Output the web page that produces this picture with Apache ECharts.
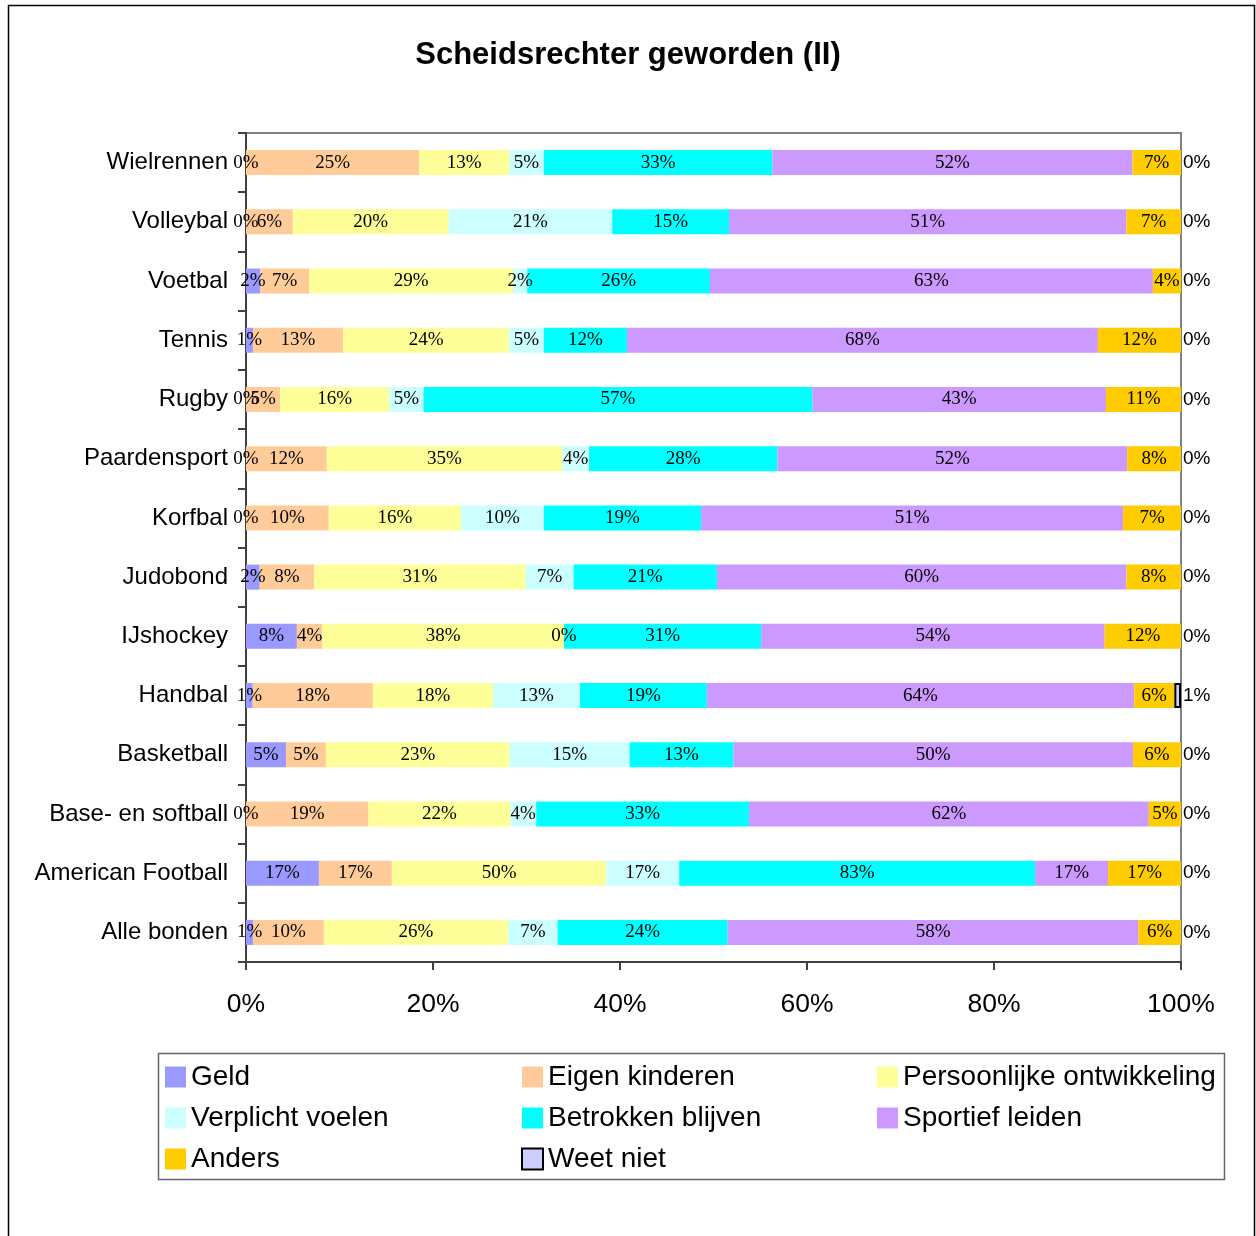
<!DOCTYPE html>
<html>
<head>
<meta charset="utf-8">
<title>Scheidsrechter geworden (II)</title>
<script src="https://cdn.jsdelivr.net/npm/echarts@6/dist/echarts.min.js"></script>
<style>
  html, body { margin: 0; padding: 0; background: #fff; }
  #chart { width: 1256px; height: 1236px; }
</style>
</head>
<body>
<div id="chart"></div>
<script>
const categories = ['Wielrennen', 'Volleybal', 'Voetbal', 'Tennis', 'Rugby', 'Paardensport', 'Korfbal',
  'Judobond', 'IJshockey', 'Handbal', 'Basketball', 'Base- en softball', 'American Football', 'Alle bonden']

const geld = [0, 0, 2, 1, 0, 0, 0, 2, 8, 1, 5, 0, 17, 1]
const eigenKinderen = [25, 6, 7, 13, 5, 12, 10, 8, 4, 18, 5, 19, 17, 10]
const persoonlijk = [13, 20, 29, 24, 16, 35, 16, 31, 38, 18, 23, 22, 50, 26]
const verplicht = [5, 21, 2, 5, 5, 4, 10, 7, 0, 13, 15, 4, 17, 7]
const betrokken = [33, 15, 26, 12, 57, 28, 19, 21, 31, 19, 13, 33, 83, 24]
const sportief = [52, 51, 63, 68, 43, 52, 51, 60, 54, 64, 50, 62, 17, 58]
const anders = [7, 7, 4, 12, 11, 8, 7, 8, 12, 6, 6, 5, 17, 6]
const weetNiet = [0, 0, 0, 0, 0, 0, 0, 0, 0, 1, 0, 0, 0, 0]

const xTicks = [0, 20, 40, 60, 80, 100]

const seriesDefs = [
  { name: 'Geld', data: geld, color: '#9999ff' },
  { name: 'Eigen kinderen', data: eigenKinderen, color: '#ffcc99' },
  { name: 'Persoonlijke ontwikkeling', data: persoonlijk, color: '#ffff99' },
  { name: 'Verplicht voelen', data: verplicht, color: '#ccffff' },
  { name: 'Betrokken blijven', data: betrokken, color: '#00ffff' },
  { name: 'Sportief leiden', data: sportief, color: '#cc99ff' },
  { name: 'Anders', data: anders, color: '#ffcc00' },
  { name: 'Weet niet', data: weetNiet, color: '#ccccff' },
]

// totaal per bond, voor 100% stapeling
const totals = categories.map((c, i) => seriesDefs.reduce((s, d) => s + d.data[i], 0))

const sans = 'Liberation Sans, Arial, sans-serif'
const serif = 'Liberation Serif, Times New Roman, serif'

const series = seriesDefs.map((d, si) => {
  const last = si === seriesDefs.length - 1
  return {
    name: d.name,
    type: 'bar',
    stack: 'totaal',
    barWidth: 25,
    clip: false,
    itemStyle: last
      ? { color: d.color, borderColor: '#000', borderWidth: 2 }
      : { color: d.color },
    label: {
      show: true,
      position: last ? 'right' : 'inside',
      distance: 2,
      color: '#000',
      fontFamily: last ? sans : serif,
      fontSize: last ? 19 : 19,
      formatter: p => d.data[p.dataIndex] + '%',
    },
    emphasis: { disabled: true },
    data: d.data.map((v, i) => {
      const item = { value: v / totals[i] * 100 }
      if (last && v === 0) item.itemStyle = { borderWidth: 0 }
      return item
    }),
  }
})

const legendText = { color: '#000', fontFamily: sans, fontSize: 28, lineHeight: 28 }
function legendCol(left, names) {
  return {
    orient: 'vertical',
    left: left,
    top: 1063,
    padding: 0,
    itemGap: 13,
    itemWidth: 21,
    itemHeight: 21,
    icon: 'rect',
    textStyle: legendText,
    data: names,
  }
}

const chart = echarts.init(document.getElementById('chart'))

chart.setOption({
  backgroundColor: '#fff',
  animation: false,
  title: {
    text: 'Scheidsrechter geworden (II)',
    left: 'center',
    top: 40,
    padding: 0,
    textStyle: { color: '#000', fontFamily: sans, fontSize: 31, fontWeight: 'bold' },
  },
  legend: [
    legendCol(165, ['Geld', 'Verplicht voelen', 'Anders']),
    legendCol(521, ['Eigen kinderen', 'Betrokken blijven', 'Weet niet']),
    legendCol(877, ['Persoonlijke ontwikkeling', 'Sportief leiden']),
  ],
  grid: {
    left: 246,
    right: 75,
    top: 133,
    bottom: 274,
    containLabel: false,
    show: true,
    borderColor: '#808080',
    borderWidth: 2,
  },
  xAxis: {
    type: 'value',
    min: xTicks[0],
    max: xTicks[xTicks.length - 1],
    interval: 20,
    axisLine: { show: true, lineStyle: { color: '#404040', width: 2 } },
    axisTick: { show: true, length: 8, lineStyle: { color: '#404040', width: 2 } },
    splitLine: { show: false },
    axisLabel: {
      color: '#000',
      fontFamily: sans,
      fontSize: 26.5,
      margin: 29,
      formatter: '{value}%',
    },
  },
  yAxis: {
    type: 'category',
    inverse: true,
    data: categories,
    axisLine: { show: true, lineStyle: { color: '#404040', width: 2 } },
    axisTick: { show: true, length: 8, lineStyle: { color: '#404040', width: 2 } },
    axisLabel: { color: '#000', fontFamily: sans, fontSize: 24, margin: 18 },
  },
  graphic: [
    {
      type: 'rect',
      z: -1,
      shape: { x: 8.5, y: 5.5, width: 1246, height: 1250 },
      style: { fill: 'none', stroke: '#000', lineWidth: 1.5 },
    },
    {
      type: 'rect',
      z: -1,
      shape: { x: 158.5, y: 1053.5, width: 1066, height: 126 },
      style: { fill: 'none', stroke: '#666', lineWidth: 1.5 },
    },
  ],
  series: series,
})
</script>
</body>
</html>
